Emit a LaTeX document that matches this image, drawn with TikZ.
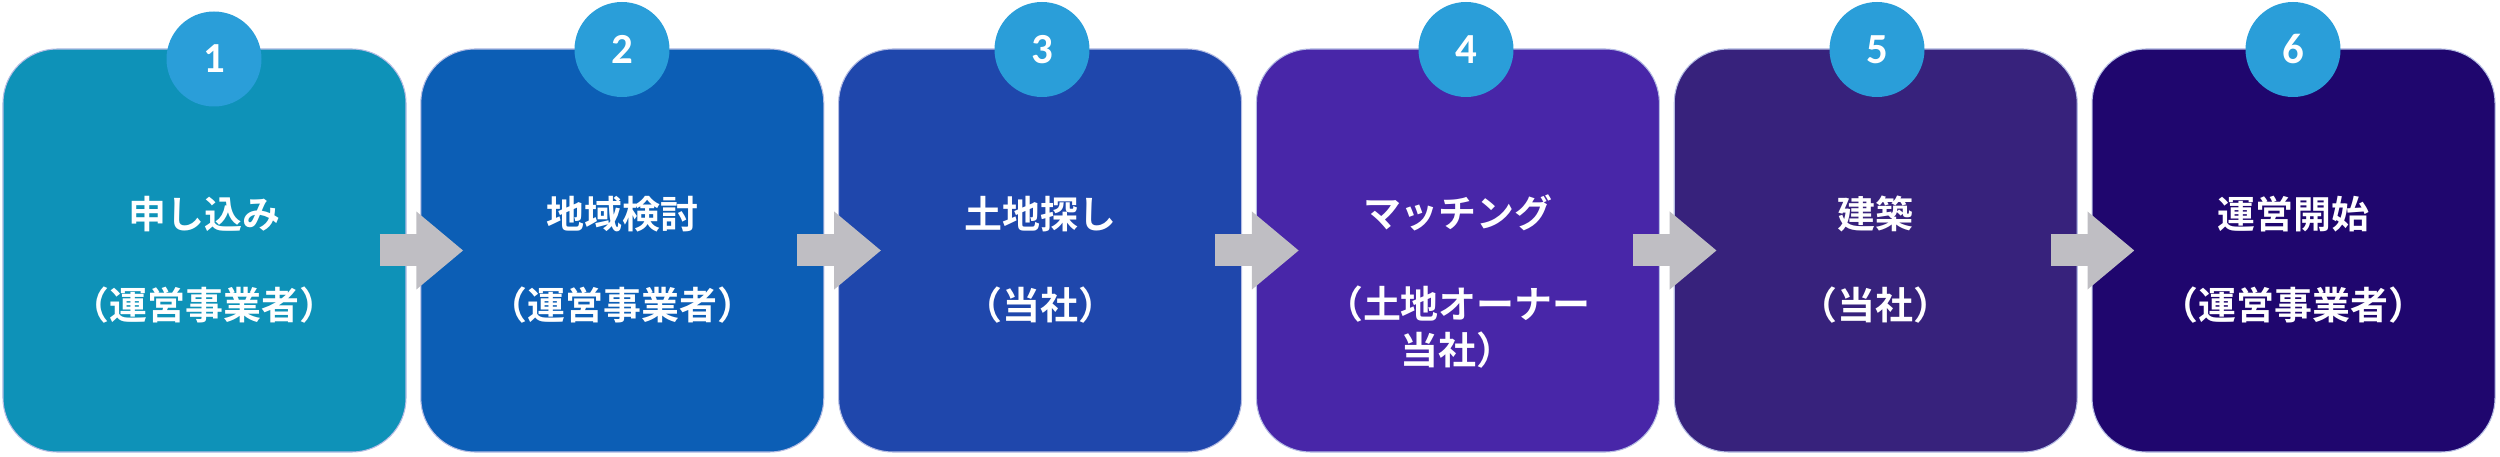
\documentclass[tikz,border=0pt]{standalone}
\usepackage{fontspec}
\newfontfamily\jpfont{Noto Sans CJK JP}[BoldFont={Noto Sans CJK JP Bold}]
\newfontfamily\numfont{Carlito}
\usetikzlibrary{arrows.meta,calc}

\definecolor{stepA}{HTML}{0E92B8}
\definecolor{stepB}{HTML}{0C5EB5}
\definecolor{stepC}{HTML}{1F47AC}
\definecolor{stepD}{HTML}{4826A8}
\definecolor{stepE}{HTML}{37227C}
\definecolor{stepF}{HTML}{1F066E}
\definecolor{badge}{HTML}{2A9ED9}
\definecolor{arrowgray}{HTML}{BFBEC3}
\definecolor{edgeline}{HTML}{B4BCE4}

\begin{document}
\begin{tikzpicture}[
    stepbox/.style={
        draw=edgeline,
        line width=0.3pt,
        minimum width=4.03cm,
        minimum height=4.03cm,
        rounded corners=0.54cm,
        inner sep=0pt
    },
    steptext/.style={
        text=white,
        align=center,
        inner sep=0pt,
        anchor=base,
        font=\jpfont\bfseries\fontsize{10.8}{13.1}\selectfont
    },
    numcircle/.style={
        circle,
        fill=badge,
        text=white,
        minimum size=0.95cm,
        inner sep=0pt,
        font=\numfont\bfseries\fontsize{12.2}{14}\selectfont
    },
    flow/.style={
        draw=arrowgray,
        line width=0.32cm,
        -{Triangle[length=0.47cm,width=0.75cm]}
    }
]

\useasboundingbox (0,0) rectangle (25,4.56);

% Horizontal positions
\def\StepAX{2.045}
\def\StepBX{6.223}
\def\StepCX{10.401}
\def\StepDX{14.579}
\def\StepEX{18.757}
\def\StepFX{22.935}
\def\StepY{2.055}

% ==================================================
% Steps
% ==================================================

\node[stepbox, fill=stepA] (apply) at (\StepAX,\StepY) {};
\node[stepbox, fill=stepB] (area) at (\StepBX,\StepY) {};
\node[stepbox, fill=stepC] (land) at (\StepCX,\StepY) {};
\node[stepbox, fill=stepD] (match) at (\StepDX,\StepY) {};
\node[stepbox, fill=stepE] (build) at (\StepEX,\StepY) {};
\node[stepbox, fill=stepF] (open) at (\StepFX,\StepY) {};

% ==================================================
% Arrows between steps
% ==================================================

\draw[flow] ($(apply.east)+(-0.27,0)$) -- ($(area.west)+(0.43,0)$);
\draw[flow] ($(area.east)+(-0.27,0)$) -- ($(land.west)+(0.43,0)$);
\draw[flow] ($(land.east)+(-0.27,0)$) -- ($(match.west)+(0.43,0)$);
\draw[flow] ($(match.east)+(-0.27,0)$) -- ($(build.west)+(0.43,0)$);
\draw[flow] ($(build.east)+(-0.27,0)$) -- ($(open.west)+(0.43,0)$);

% ==================================================
% Numbers
% ==================================================

\node[numcircle] (numA) at (2.14,3.97) {1};
\node[numcircle] (numB) at (6.22,4.065) {2};
\node[numcircle] (numC) at (10.42,4.065) {3};
\node[numcircle] (numD) at (14.66,4.065) {4};
\node[numcircle] (numE) at (18.77,4.065) {5};
\node[numcircle] (numF) at (22.93,4.065) {6};

% ==================================================
% Labels (anchored on the baseline of the last line)
% ==================================================

\node[steptext] (textA) at (\StepAX,1.366)
    {申し込み\\[0.45cm]（運営事業者）};

\node[steptext] (textB) at (\StepBX,1.366)
    {地域検討\\[0.45cm]（運営事業者）};

\node[steptext] (textC) at (\StepCX,1.366)
    {土地探し\\[0.45cm]（当社）};

\node[steptext] (textD) at (\StepDX,0.916)
    {マッチング\\[0.45cm]（土地オーナー\\当社）};

\node[steptext] (textE) at (\StepEX,1.366)
    {建築\\[0.45cm]（当社）};

\node[steptext] (textF) at (\StepFX,1.366)
    {運営開始\\[0.45cm]（運営事業者）};

\end{tikzpicture}
\end{document}
